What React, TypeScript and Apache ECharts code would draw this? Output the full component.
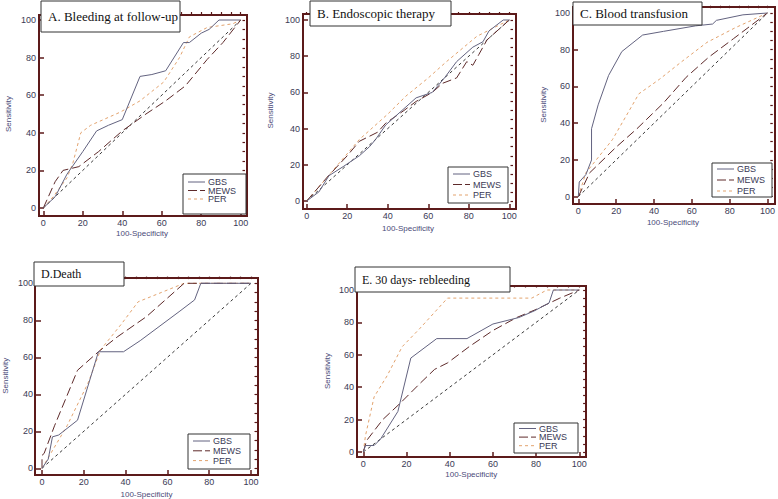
import React, { useEffect, useRef } from "react";
import * as echarts from "echarts";

// ---- data (x = 100-Specificity, y = Sensitivity) ----
const seriesNames = ["GBS", "MEWS", "PER"];
const diagonal = [[0, 0], [100, 100]];

const aGBS = [[0, 0], [6, 6], [12, 18], [20, 30], [27, 41], [33, 44], [40, 47], [49, 70], [55, 71], [62, 73], [71, 88], [74, 88], [80, 93], [84, 95], [89, 100], [100, 100]];
const aMEWS = [[0, 0], [6, 14], [10, 20], [18, 22], [28, 30], [40, 41], [52, 50], [62, 57], [72, 65], [83, 79], [91, 88], [100, 100]];
const aPER = [[0, 0], [5, 6], [12, 16], [15, 24], [19, 40], [24, 44], [39, 51], [49, 57], [61, 67], [69, 80], [74, 91], [83, 96], [96, 98], [100, 100]];

const bGBS = [[0, 0], [6, 5], [11, 14], [18, 19], [26, 25], [31, 30], [34, 34], [39, 42], [49, 52], [54, 57], [62, 60], [68, 68], [74, 77], [82, 85], [87, 88], [90, 94], [97, 100], [100, 100]];
const bMEWS = [[0, 0], [10, 13], [20, 25], [26, 33], [35, 38], [39, 43], [48, 50], [54, 55], [62, 60], [67, 65], [74, 68], [79, 77], [82, 75], [85, 81], [89, 89], [92, 92], [100, 100]];
const bPER = [[0, 0], [10, 13], [26, 34], [40, 48], [49, 58], [60, 68], [69, 77], [84, 91], [100, 100]];

const cGBS = [[0, 0], [0.5, 8], [4, 12], [7, 20], [7, 37], [10.5, 50], [16, 66], [23, 79], [34, 88], [45, 90], [62, 93], [71, 94], [73, 96], [87, 99], [100, 100]];
const cMEWS = [[0, 0], [6, 13], [20, 27], [31, 37], [45, 51], [57, 65], [69, 76], [82, 86], [100, 100]];
const cPER = [[0, 0], [4, 13], [18, 31], [27, 47], [32, 56], [43, 64], [54, 73], [68, 84], [83, 92], [100, 100]];

const dGBS = [[0, 0], [3, 5], [5, 17], [8, 18], [17, 26], [27, 63], [39, 63], [47, 69], [66, 85], [73, 91], [76, 100], [100, 100]];
const dMEWS = [[0, 0], [0, 7], [1, 8], [6, 23], [17, 53], [27, 63], [36, 71], [50, 82], [68, 100], [100, 100]];
const dPER = [[0, 0], [12, 23], [22, 46], [28, 64], [38, 78], [46, 90], [57, 95], [68, 100], [100, 100]];

const eGBS = [[0, 0], [1, 4], [5, 4], [8, 8], [16, 25], [22, 58], [34, 70], [48, 70], [60, 79], [72, 83], [79, 87], [86, 92], [88, 100], [100, 100]];
const eMEWS = [[0, 0], [1.5, 7], [9, 20], [17, 30], [26, 42], [33, 51], [39, 55], [49, 65], [60, 75], [71, 83], [80, 88], [91, 95], [100, 100]];
const ePER = [[0, 0], [1, 10], [5, 34], [11, 47], [18, 65], [26, 76], [39, 95], [78, 95], [85, 100], [100, 100]];

// ---- layout ----
// plot: data rectangle [left, top, width, height] (0..100 on both axes)
// frame: outer box [left, top, right, bottom]
const panels = [
  { title: "A. Bleeding at follow-up", data: [aGBS, aMEWS, aPER], plot: [43.3, 20, 197.4, 188], frame: [39, 15, 247, 216], yName: 27, xName: 13, box: [41, 1, 139, 31], fs: 13, legend: [183, 174, 63, 40, 8, 8.5] },
  { title: "B. Endoscopic therapy", data: [bGBS, bMEWS, bPER], plot: [306.7, 20, 202.6, 181], frame: [303, 14, 516, 209], yName: 29, xName: 15, box: [310, 1, 141, 25], fs: 13, legend: [448, 167, 60, 36, 7, 10.5] },
  { title: "C. Blood transfusion", data: [cGBS, cMEWS, cPER], plot: [578.3, 13, 190, 183.7], frame: [573, 7, 775, 204], yName: 26, xName: 14, box: [573, 2, 129, 23], fs: 13, legend: [712, 163, 60, 34, 6, 11] },
  { title: "D.Death", data: [dGBS, dMEWS, dPER], plot: [41, 283.3, 210, 185], frame: [35, 278, 258, 475], yName: 27, xName: 15, box: [34, 262, 90, 24], fs: 12, legend: [188, 434, 62, 35, 7, 9.8] },
  { title: "E. 30 days- rebleeding", data: [eGBS, eMEWS, ePER], plot: [363.3, 290, 216, 162], frame: [357, 286, 586, 457], yName: 26, xName: 13, box: [355, 267, 155, 25], fs: 12, legend: [514, 423, 64, 30, 5.5, 8.6] },
];

const styles = [
  { color: "#636380", type: "solid" as any },
  { color: "#5e2a2a", type: [9, 4] as any },
  { color: "#e3a36e", type: [3, 3] as any },
];
const diagStyle = { color: "#3a3a3a", type: [3, 3] as any };
const frameColor = "#5c1a1a";
const labelColor = "#3a3a55";
const nameColor = "#4a4a78";
const sans = "Liberation Sans, Arial, sans-serif";

export default function App() {
  const ref = useRef<HTMLDivElement>(null);
  useEffect(() => {
    if (!ref.current) return;
    const chart = echarts.init(ref.current, null, { renderer: "svg" });
    const grids: any[] = [];
    const xAxes: any[] = [];
    const yAxes: any[] = [];
    const xMinor: any[] = [];
    const yMinor: any[] = [];
    const series: any[] = [];
    const graphics: any[] = [];
    panels.forEach((p, i) => {
      const [pl, pt, pw, ph] = p.plot;
      const [fl, ft, fr, fb] = p.frame;
      grids.push({ left: pl, top: pt, width: pw, height: ph, show: false });
      const xOff = fb - (pt + ph);
      const yOff = pl - fl;
      const common = {
        gridIndex: i,
        type: "value",
        min: 0,
        max: 100,
        interval: 20,
        axisLine: { show: false, onZero: false },
        splitLine: { show: false },
        axisTick: { show: true, inside: true, length: 5, lineStyle: { color: frameColor, width: 1.5 } },
        axisLabel: { color: labelColor, fontSize: 9, fontFamily: sans },
        nameLocation: "middle",
        nameMoveOverlap: false,
        nameTextStyle: { color: nameColor, fontSize: 8, fontFamily: sans },
      };
      const minorCommon = {
        gridIndex: i,
        type: "value",
        min: 0,
        max: 100,
        interval: 5,
        axisLine: { show: false, onZero: false },
        splitLine: { show: false },
        axisTick: { show: true, inside: true, length: 2.5, lineStyle: { color: frameColor, width: 1.2 } },
        axisLabel: { show: false },
      };
      xAxes.push({ ...common, offset: xOff, axisLabel: { ...common.axisLabel, margin: 2 }, name: "100-Specificity", nameGap: p.xName });
      yAxes.push({ ...common, offset: yOff, axisLabel: { ...common.axisLabel, margin: 3 }, name: "Sensitivity", nameGap: p.yName, nameRotate: 90 });
      xMinor.push({ ...minorCommon, offset: xOff });
      yMinor.push({ ...minorCommon, offset: yOff });
      seriesNames.forEach((n, k) => {
        series.push({
          type: "line", name: n, xAxisIndex: i, yAxisIndex: i, data: p.data[k], symbol: "none", clip: false,
          lineStyle: { color: styles[k].color, type: styles[k].type, width: 1 }, itemStyle: { color: styles[k].color },
          z: 3 + (2 - k),
        });
      });
      series.push({
        type: "line", name: "ref", xAxisIndex: i, yAxisIndex: i, data: diagonal, symbol: "none",
        lineStyle: { color: diagStyle.color, type: diagStyle.type, width: 1 }, z: 2,
      });
      // frame
      graphics.push({
        type: "rect", z: 50, silent: true, shape: { x: fl, y: ft, width: fr - fl, height: fb - ft },
        style: { fill: "none", stroke: frameColor, lineWidth: 2 },
      });
      // legend box
      const [lx, ly, lw, lh, r0, rg] = p.legend;
      graphics.push({
        type: "rect", z: 90, shape: { x: lx, y: ly, width: lw, height: lh },
        style: { fill: "#fff", stroke: "#333", lineWidth: 1 },
      });
      seriesNames.forEach((n, k) => {
        const yy = ly + r0 + rg * k;
        graphics.push({
          type: "line", z: 91, shape: { x1: lx + 5, y1: yy, x2: lx + 22, y2: yy },
          style: { stroke: styles[k].color, lineWidth: 1, lineDash: k === 0 ? null : k === 1 ? [9, 3] : [3, 3] },
        });
        graphics.push({
          type: "text", z: 91, x: lx + 25, y: yy,
          style: { text: n, fill: labelColor, font: `9px ${sans}`, verticalAlign: "middle" },
        });
      });
      // title box
      graphics.push({
        type: "rect", z: 100, shape: { x: p.box[0], y: p.box[1], width: p.box[2], height: p.box[3] },
        style: { fill: "#fff", stroke: "#333", lineWidth: 1 },
      });
      graphics.push({
        type: "text", z: 101, x: p.box[0] + 7, y: p.box[1] + p.box[3] / 2,
        style: { text: p.title, fill: "#111", font: `${p.fs}px "Liberation Serif", "Times New Roman", serif`, verticalAlign: "middle" },
      });
    });
    chart.setOption({
      animation: false,
      backgroundColor: "#fff",
      grid: grids,
      xAxis: [...xAxes, ...xMinor],
      yAxis: [...yAxes, ...yMinor],
      series,
      graphic: graphics,
    });
    return () => chart.dispose();
  }, []);
  return <div ref={ref} style={{ position: "fixed", left: 0, top: 0, width: 778, height: 499 }} />;
}
